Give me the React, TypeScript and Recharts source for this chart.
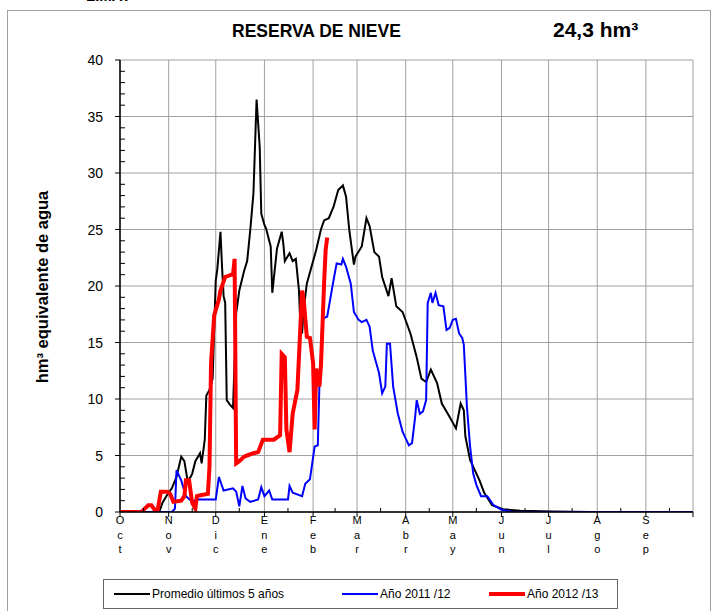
import React from "react";
import { LineChart, Line, XAxis, YAxis, CartesianGrid, Legend } from "recharts";

const FONT = "'Liberation Sans', Arial, sans-serif";

// x axis: days since 1 Oct
const monthStarts = [0, 31, 61, 92, 123, 151, 182, 212, 243, 273, 304, 335, 365];
const monthMids = [15, 46, 76, 107, 137, 166, 197, 227, 258, 288, 319, 350];
const monthLabels = ["Oct", "Nov", "Dic", "Ene", "Feb", "Mar", "Abr", "May", "Jun", "Jul", "Ago", "Sep"];

const yMajor = [0, 5, 10, 15, 20, 25, 30, 35, 40];
const yMinor = [
  0, 1, 2, 3, 4, 5, 6, 7, 8, 9, 10, 11, 12, 13, 14, 15, 16, 17, 18, 19, 20,
  21, 22, 23, 24, 25, 26, 27, 28, 29, 30, 31, 32, 33, 34, 35, 36, 37, 38, 39, 40,
];

// Promedio últimos 5 años
const avgDays = [
  0, 25, 27, 30, 33, 36, 39, 41, 43, 45, 46, 48, 51, 52, 54, 55, 57, 59, 61, 62,
  64, 65, 66, 67, 68, 70, 72, 74, 76, 79, 81, 83, 85, 87, 89, 90, 92, 93, 96, 97,
  100, 103, 104, 105, 108, 110, 112, 114, 115, 116, 117, 119, 122, 125, 128, 130, 133, 136, 139, 142,
  144, 146, 149, 150, 154, 157, 159, 162, 165, 167, 171, 173, 176, 180, 185, 189, 192, 195, 198, 202,
  205, 210, 214, 217, 219, 220, 223, 226, 229, 232, 237, 244, 255, 276, 300, 365,
];
const avgVals = [
  0, 0, 0.8, 1.5, 2.1, 3.1, 4.9, 4.5, 2.8, 3.1, 3.4, 4.5, 5.2, 4.3, 6.4, 10.3, 10.8, 11.8, 20.5, 21.5,
  24.8, 21.7, 19.1, 18.5, 9.9, 9.5, 9.2, 17.6, 19.6, 21.3, 22.2, 25.0, 28.2, 36.5, 32.3, 26.4, 25.4, 25.1, 23.5, 19.4,
  23.3, 24.8, 23.8, 22.2, 22.9, 22.2, 22.4, 19.6, 16.1, 15.8, 17.9, 20.2, 21.7, 23.2, 25.0, 25.8, 26.0, 27.0, 28.5, 28.9,
  27.9, 25.0, 21.9, 22.6, 23.5, 26.0, 25.3, 23.0, 22.6, 20.8, 19.1, 20.7, 18.2, 17.7, 15.8, 13.7, 11.8, 11.5, 12.6, 11.4,
  9.6, 8.4, 7.4, 9.6, 9.0, 6.7, 4.6, 3.7, 2.8, 1.7, 0.6, 0.25, 0.1, 0.05, 0, 0,
];

// Año 2011/12
const y2011Days = [
  0, 33, 35, 36, 39, 42, 46, 49, 55, 61, 63, 66, 72, 74, 76, 78, 80, 83, 88, 90,
  92, 95, 97, 107, 108, 110, 116, 118, 121, 124, 126, 127, 129, 132, 136, 138, 141, 142, 144, 147,
  149, 152, 154, 157, 159, 161, 165, 167, 169, 170, 172, 174, 177, 180, 184, 186, 188, 189, 191, 193,
  195, 196, 198, 199, 201, 203, 206, 208, 210, 212, 214, 216, 218, 219, 221, 223, 225, 227, 230, 234,
  238, 243, 250, 365,
];
const y2011Vals = [
  0, 0, 0.3, 3.7, 2.8, 1.4, 0.9, 1.1, 1.1, 1.1, 3.1, 1.9, 2.1, 1.8, 0.5, 2.3, 1.2, 0.9, 1.1, 2.2,
  1.4, 1.9, 1.1, 1.1, 2.3, 1.7, 1.4, 2.5, 2.9, 5.8, 5.9, 11.1, 17.1, 17.3, 20.5, 22.0, 21.9, 22.4, 21.7, 20.2,
  17.7, 17.0, 16.8, 17.0, 16.4, 14.3, 12.3, 10.5, 11.1, 14.9, 14.9, 11.1, 8.7, 7.1, 5.9, 6.1, 8.4, 9.9, 8.7, 8.9,
  9.9, 18.5, 19.4, 18.5, 19.4, 18.3, 18.2, 16.1, 16.3, 17.0, 17.1, 15.8, 15.4, 14.8, 9.3, 5.8, 3.4, 2.4, 1.4, 1.4,
  0.6, 0.2, 0, 0,
];

// Año 2012/13
const y2012Days = [
  0, 14, 15, 18, 20, 22, 24, 26, 30, 32, 34, 39, 41, 42, 44, 46, 48, 49, 52, 56,
  57, 58, 60, 63, 64, 67, 71, 72, 73, 74, 76, 79, 81, 85, 88, 91, 98, 102, 103, 105,
  106, 108, 110, 113, 116, 117, 119, 121, 123, 124, 125, 127, 128, 130, 131, 132,
];
const y2012Vals = [
  0, 0, 0.2, 0.6, 0.6, 0.2, 0.2, 1.8, 1.8, 1.6, 0.9, 1.0, 1.4, 2.8, 2.8, 0.8, 0.3, 1.4, 1.5, 1.6,
  4.0, 13.2, 17.4, 18.8, 19.6, 20.8, 21.0, 21.0, 22.4, 4.3, 4.5, 4.9, 5.0, 5.2, 5.3, 6.4, 6.4, 6.8, 14.0, 13.7,
  7.3, 5.3, 8.7, 10.8, 19.6, 18.8, 15.5, 15.4, 13.2, 7.3, 12.7, 11.1, 12.9, 20.2, 23.2, 24.3,
];

const toPoints = (days: number[], vals: number[]) => days.map((d, i) => ({ d, v: vals[i] }));
const avgData = toPoints(avgDays, avgVals);
const data2011 = toPoints(y2011Days, y2011Vals);
const data2012 = toPoints(y2012Days, y2012Vals);

const xTicks = [...monthStarts, ...monthMids].sort((a, b) => a - b);

function MonthTick(props: any) {
  const { x, y, payload } = props;
  const i = monthStarts.indexOf(payload.value);
  if (i < 0) {
    return <line x1={x} x2={x} y1={y} y2={y - 4} stroke="#000" />;
  }
  const label = monthLabels[i];
  return (
    <g>
      <line x1={x} x2={x} y1={y} y2={y + 5} stroke="#000" />
      {label && (
        <text x={x} y={y + 12} textAnchor="middle" fontSize={11} fontFamily={FONT} fill="#000">
          {label.split("").map((c, k) => (
            <tspan key={k} x={x} dy={k === 0 ? 0 : 14.5}>
              {c}
            </tspan>
          ))}
        </text>
      )}
    </g>
  );
}

function ValueTick(props: any) {
  const { x, y, payload } = props;
  const v = payload.value;
  const major = yMajor.includes(v);
  return (
    <g>
      {major ? (
        <line x1={x - 5} x2={x} y1={y} y2={y} stroke="#000" />
      ) : (
        <line x1={x} x2={x + 5} y1={y} y2={y} stroke="#000" />
      )}
      {major && (
        <text x={x - 17} y={y + 5} textAnchor="end" fontSize={14} fontFamily={FONT} fill="#000">
          {v}
        </text>
      )}
    </g>
  );
}

function LegendBox() {
  const item = (color: string, width: number, text: string, left: number) => (
    <div style={{ position: "absolute", left, top: 0, height: 28, display: "flex", alignItems: "center" }}>
      <svg width={36} height={8}>
        <line x1={0} x2={36} y1={4} y2={4} stroke={color} strokeWidth={width} />
      </svg>
      <span style={{ fontSize: 12, fontFamily: FONT, color: "#000", marginLeft: 2 }}>{text}</span>
    </div>
  );
  return (
    <div
      style={{
        position: "relative",
        width: 513,
        height: 28,
        border: "1px solid #666",
        background: "#fff",
      }}
    >
      {item("#000", 2, "Promedio últimos 5 años", 10)}
      {item("#0000ff", 2, "Año 2011 /12", 238)}
      {item("#ff0000", 4, "Año 2012 /13", 385)}
    </div>
  );
}

export default function App() {
  return (
    <div style={{ position: "absolute", left: 0, top: 0, width: 712, height: 611, background: "#fff", overflow: "hidden" }}>
      <div
        style={{
          position: "absolute",
          left: 7,
          top: 10,
          width: 702,
          height: 620,
          border: "1px solid #a0a0a0",
        }}
      />
      <div style={{ position: "absolute", left: 86, top: -13, fontFamily: FONT, fontWeight: "bold", fontSize: 15 }}>
        LIMAY
      </div>
      <div style={{ position: "absolute", left: 232, top: 21, fontFamily: FONT, fontWeight: "bold", fontSize: 17.5 }}>
        RESERVA DE NIEVE
      </div>
      <div style={{ position: "absolute", left: 553, top: 18, fontFamily: FONT, fontWeight: "bold", fontSize: 21 }}>
        24,3 hm³
      </div>
      <div
        style={{
          position: "absolute",
          left: 42 - 150,
          top: 287 - 11,
          width: 300,
          height: 22,
          lineHeight: "22px",
          textAlign: "center",
          transform: "rotate(-90deg)",
          fontFamily: FONT,
          fontWeight: "bold",
          fontSize: 16.5,
        }}
      >
        hm³ equivalente de agua
      </div>
      <div style={{ position: "absolute", left: 0, top: 0 }}>
        <LineChart width={712} height={611} margin={{ top: 60, right: 19, bottom: 59, left: 60 }}>
          <CartesianGrid horizontalValues={yMajor} verticalValues={monthStarts} stroke="#a0a0a0" strokeWidth={1} />
          <XAxis
            type="number"
            dataKey="d"
            domain={[0, 365]}
            ticks={xTicks}
            interval={0}
            tickSize={0}
            tickMargin={0}
            tick={(p: any) => <MonthTick {...p} />}
            axisLine={{ stroke: "#000", strokeWidth: 1.5 }}
            height={40}
            allowDataOverflow
          />
          <YAxis
            type="number"
            dataKey="v"
            domain={[0, 40]}
            ticks={yMinor}
            interval={0}
            tickSize={0}
            tickMargin={0}
            tick={(p: any) => <ValueTick {...p} />}
            axisLine={{ stroke: "#000", strokeWidth: 1.5 }}
            width={60}
            allowDataOverflow
          />
          <Line data={avgData} dataKey="v" type="linear" stroke="#000" strokeWidth={2} dot={false} isAnimationActive={false} name="Promedio últimos 5 años" />
          <Line data={data2011} dataKey="v" type="linear" stroke="#0000ff" strokeWidth={2} dot={false} isAnimationActive={false} name="Año 2011 /12" />
          <Line data={data2012} dataKey="v" type="linear" stroke="#ff0000" strokeWidth={4} dot={false} isAnimationActive={false} name="Año 2012 /13" />
          <Legend
            layout="horizontal"
            verticalAlign="middle"
            align="center"
            wrapperStyle={{ left: 103, top: 579, width: 515, height: 30 }}
            content={() => <LegendBox />}
          />
        </LineChart>
      </div>
    </div>
  );
}
